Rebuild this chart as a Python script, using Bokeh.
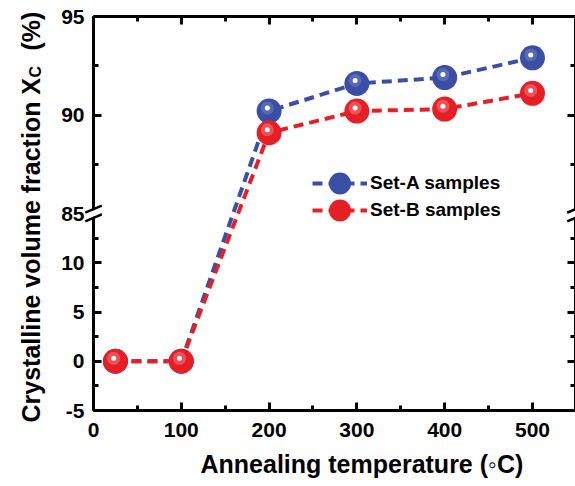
import numpy as np
from bokeh.plotting import figure
from bokeh.layouts import row, column
from bokeh.models import FixedTicker, LinearAxis, Label, Legend, LegendItem, Range1d, Title
from bokeh.embed import file_html
from bokeh.resources import INLINE

# ---- data ----
temperature = [25, 100, 200, 300, 400, 500]
set_a = [0, 0, 90.2, 91.6, 91.9, 92.9]
set_b = [0, 0, 89.1, 90.2, 90.3, 91.1]

y_tick_values = [-5, 0, 5, 10, 85, 90, 95]
y_minor_values = [-2.5, 2.5, 7.5, 12.5, 87.5, 92.5]
x_tick_values = [0, 100, 200, 300, 400, 500]
x_minor_values = [50, 150, 250, 350, 450]

# ---- broken-axis mapping ----
LOWER_TOP = 15.0
UPPER_BOTTOM = 85.0
UPPER_STRETCH = 2.0


def to_display(v):
    v = np.asarray(v, dtype=float)
    return np.where(v <= LOWER_TOP, v, LOWER_TOP + (v - UPPER_BOTTOM) * UPPER_STRETCH)


def num(v):
    return int(v) if float(v).is_integer() else float(v)


y_ticks_d = [num(t) for t in to_display(y_tick_values)]
y_minor_d = [num(t) for t in to_display(y_minor_values)]
y_overrides = {d: str(v) for d, v in zip(y_ticks_d, y_tick_values)}

X_END = 549
Y_START = num(to_display([-5])[0])
Y_END = num(to_display([95])[0])

FONT = "Liberation Sans"
BLUE = "#3a4fa3"
RED = "#e51f26"
TOTAL_H = 486
TITLE_W = 50

# ---- narrow panel holding the rotated y title ----
tp = figure(width=TITLE_W, height=TOTAL_H, output_backend="svg", toolbar_location=None,
            x_range=Range1d(0, 1), y_range=Range1d(0, 1),
            x_axis_location=None, y_axis_location=None,
            min_border_left=0, min_border_right=0, min_border_top=0, min_border_bottom=0)
tp.outline_line_color = None
tp.xgrid.visible = False
tp.ygrid.visible = False
tp.add_layout(Label(x=30, y=TOTAL_H - 422, x_units="screen", y_units="screen", angle=np.pi / 2,
                    text="Crystalline volume fraction X", text_align="left", text_baseline="middle",
                    text_font=FONT, text_font_style="bold", text_font_size="25px", text_color="black"))
tp.add_layout(Label(x=35, y=TOTAL_H - 77, x_units="screen", y_units="screen", angle=np.pi / 2,
                    text="C", text_align="left", text_baseline="middle",
                    text_font=FONT, text_font_style="bold", text_font_size="16px", text_color="black"))
tp.add_layout(Label(x=30, y=TOTAL_H - 50, x_units="screen", y_units="screen", angle=np.pi / 2,
                    text="(%)", text_align="left", text_baseline="middle",
                    text_font=FONT, text_font_style="bold", text_font_size="25px", text_color="black"))

# ---- main plot ----
p = figure(width=575 - TITLE_W, height=TOTAL_H, output_backend="svg", toolbar_location=None,
           x_range=Range1d(0, X_END), y_range=Range1d(Y_START, Y_END),
           min_border_left=93 - TITLE_W, min_border_right=0, min_border_top=16, min_border_bottom=76)
p.outline_line_color = None
p.xgrid.visible = False
p.ygrid.visible = False
p.background_fill_color = "white"
p.border_fill_color = "white"

x_ticker = FixedTicker(ticks=x_tick_values, minor_ticks=x_minor_values)
y_ticker = FixedTicker(ticks=y_ticks_d, minor_ticks=y_minor_d)


def style(ax, labels=True):
    ax.axis_line_width = 3
    ax.axis_line_color = "black"
    ax.major_tick_line_width = 3
    ax.minor_tick_line_width = 3
    ax.major_tick_in = 8
    ax.major_tick_out = 0
    ax.minor_tick_in = 5
    ax.minor_tick_out = 0
    ax.major_label_text_font = FONT
    ax.major_label_text_font_style = "bold"
    ax.major_label_text_font_size = "21px"
    ax.major_label_text_color = "black"
    if not labels:
        ax.major_label_text_font_size = "0px"
        ax.major_label_standoff = 0


p.xaxis.ticker = x_ticker
p.yaxis.ticker = y_ticker
p.yaxis.major_label_overrides = y_overrides
style(p.xaxis[0])
style(p.yaxis[0])
p.xaxis.major_label_standoff = 12
p.yaxis.major_label_standoff = 9

top_axis = LinearAxis(ticker=x_ticker)
style(top_axis, labels=False)
top_axis.major_label_overrides = {t: "" for t in x_tick_values}
p.add_layout(top_axis, "above")

right_axis = LinearAxis(ticker=y_ticker)
style(right_axis, labels=False)
right_axis.major_label_overrides = {t: "" for t in y_ticks_d}
p.add_layout(right_axis, "right")

# x axis title as a below-panel title, shifted right like the original
p.add_layout(Title(text="Annealing temperature (\u25e6C)", align="left", offset=107, standoff=17,
                   text_font=FONT, text_font_style="bold", text_font_size="25px",
                   text_color="black"), "below")

# ---- data marks ----
ya = to_display(set_a)
yb = to_display(set_b)

# small shift of the specular highlight (up-left of each sphere centre)
HL_DX = -2.0
HL_DY = 0.3

line_a = p.line(temperature, ya, line_color=BLUE, line_width=4, line_dash="10 6")
line_b = p.line(temperature, yb, line_color=RED, line_width=4, line_dash="10 6")

hx = [t + HL_DX for t in temperature]

dot_a = p.scatter(temperature, ya, size=25, marker="circle", fill_color=BLUE, line_color=None)
p.scatter(hx, ya + HL_DY, size=13, marker="circle", fill_color="#6f82c8", fill_alpha=0.55, line_color=None)
p.scatter(hx, ya + HL_DY, size=5, marker="circle", fill_color="white", line_color=None)

dot_b = p.scatter(temperature, yb, size=25, marker="circle", fill_color=RED, line_color=None)
p.scatter(hx, yb + HL_DY, size=13, marker="circle", fill_color="#f6787b", fill_alpha=0.55, line_color=None)
p.scatter(hx, yb + HL_DY, size=5, marker="circle", fill_color="white", line_color=None)

# ---- break marks on both spines ----
for bxi in [0, X_END]:
    p.scatter([bxi], [LOWER_TOP], marker="dash", size=18, angle=0.4, line_color="white",
              line_width=6, level="overlay")
    p.scatter([bxi, bxi], [LOWER_TOP + 0.45, LOWER_TOP - 0.45], marker="dash", size=18, angle=0.4,
              line_color="black", line_width=2.5, level="overlay")

# ---- legend (two single-row legends so rows sit close together) ----
legend_rows = [("Set-A samples", line_a, dot_a, 197), ("Set-B samples", line_b, dot_b, 170)]
for label, ln, dt, ybot in legend_rows:
    lg = Legend(items=[LegendItem(label=label, renderers=[ln, dt])],
                location=(219, ybot), glyph_width=55, glyph_height=60,
                padding=0, margin=0, border_line_color=None, background_fill_alpha=0,
                label_text_font=FONT, label_text_font_style="bold", label_text_font_size="19px",
                label_text_color="black", label_standoff=3)
    p.add_layout(lg)

layout = row(column(tp), p, spacing=0)
open("out.html", "w").write(file_html(layout, INLINE))
